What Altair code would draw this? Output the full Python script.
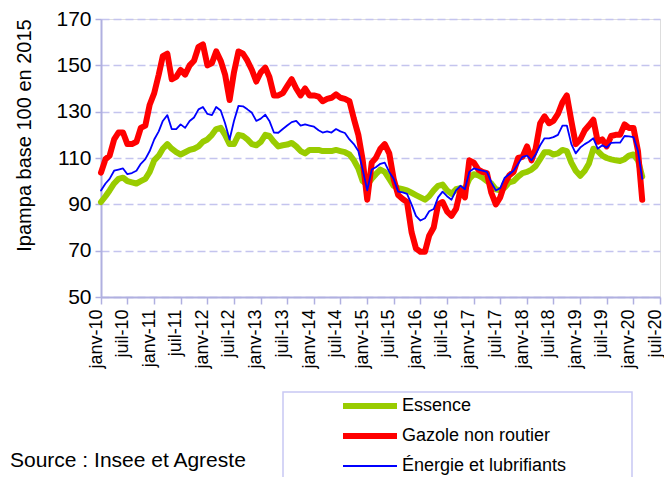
import altair as alt
import pandas as pd

# Monthly dates, janv-2010 .. mars-2020
dates = pd.date_range("2010-01-01", periods=123, freq="MS").strftime("%Y-%m-%d").tolist()

series_names = ["Essence", "Gazole non routier", "Énergie et lubrifiants"]
series_colors = ["#99cc00", "#ff0000", "#0000ff"]
series_widths = [6, 6, 1.8]

essence = [
    91, 93.5, 96, 99, 101, 101.5, 100, 99.5, 99, 100, 101, 104,
    109, 111, 114, 116, 114, 112.5, 111.5, 112.5, 113.5, 114, 115, 117,
    118, 120, 122.5, 123, 120, 116, 116, 120, 119.5, 118, 116, 115.5,
    117, 120, 119.5, 117, 115, 115.5, 115.8, 116.5, 115, 113, 112, 113.5,
    113.5, 113.5, 113, 113, 113, 113.5, 113, 112.5, 111.5, 109, 105.5, 100,
    98.5, 101, 103, 105, 104, 101, 98, 97, 96.5, 96, 95, 94,
    93, 92, 93.5, 96, 98, 98.5, 96, 94.5, 96.5, 97, 96.5, 101,
    103, 102.5, 101.5, 100, 99, 96.5, 96, 97.3, 99.5, 100, 102, 103.5,
    104, 105, 106.5, 109.5, 112.5, 112.5, 111.5, 112, 113.5, 113, 108, 104.5,
    102.3, 104.5, 107.5, 114, 113, 111, 110, 109.4, 109, 108.7, 109.5, 111,
    111.5, 109, 102,
]

gazole = [
    103.7, 109.5, 111, 118, 121, 121, 116, 116, 117, 123, 124, 133,
    138, 146, 154, 155, 144, 145, 148, 146, 150, 152, 158, 159,
    150, 151, 156, 152, 146, 135, 147, 156, 155, 152, 148, 143,
    147, 149, 145, 137, 137, 138, 141, 144, 140, 137, 140, 137,
    137, 136.5, 134.5, 135.5, 136, 137.5, 136, 135.5, 134.5, 127, 120, 109,
    92, 108, 110, 114, 116, 112, 101, 94, 92.3, 91, 78, 71,
    69.5, 69.5, 76.5, 80, 90, 91, 87, 85, 88, 96, 93, 109,
    108, 105, 104, 103.5, 95, 90, 93, 99, 102.5, 104, 110, 110.5,
    115, 109, 114, 125, 128, 125, 126, 129, 134, 137, 126, 116,
    118, 122, 124, 126.5, 117, 118, 115, 119.5, 120, 120, 124.5, 123,
    123, 113, 92,
]

energie = [
    96, 99, 101, 104.5, 105, 105.5, 103, 103.5, 104.5, 107.5, 109.5, 113,
    118, 121.5, 126, 128.5, 122.5, 122.5, 124.5, 123, 126, 127.5, 131, 132,
    129, 128.5, 132, 130.5, 125, 118, 126, 132.5, 132.3, 131, 129.5, 126,
    127, 128.7, 126, 121, 120.9, 122.5, 124, 125.5, 126, 124, 124.5, 124,
    123.5, 122, 121, 121.5, 121, 122.5, 121.5, 120.8, 118, 116, 113, 105,
    96, 105, 106, 107.5, 108, 104, 101, 95.5, 95.2, 94.5, 90, 85,
    83, 84, 87, 88, 93, 95.5, 93.5, 92, 96, 98, 96.5, 104,
    105.5, 105, 104.5, 104, 99.5, 96, 97, 101.5, 103, 104.5, 107.5, 110.5,
    111, 109, 111.5, 115.5, 118.5, 118.5, 119, 120, 124, 124, 116, 112,
    114.5, 116, 117, 118.5, 114, 115.5, 114.5, 116.5, 116.6, 116.6, 119.5, 119.3,
    119, 113, 101,
]

x_tick_dates = [f"{y}-{m:02d}-01" for y in range(2010, 2021) for m in (1, 7)]
y_ticks = [50, 70, 90, 110, 130, 150, 170]

rows = []
for name, vals in zip(series_names, [essence, gazole, energie]):
    for d, v in zip(dates, vals):
        rows.append({"date": d, "serie": name, "valeur": v})
df = pd.DataFrame(rows)

lavender = "#c4c4ee"
axis_col = "#b0b0e0"

x_enc = alt.X(
    "date:T",
    scale=alt.Scale(type="utc", domain=["2010-01-01", "2020-07-01"]),
    axis=alt.Axis(
        values=[alt.DateTime(year=int(s[:4]), month=int(s[5:7]), date=1, utc=True) for s in x_tick_dates],
        labelExpr="(utcmonth(datum.value) == 0 ? 'janv-' : 'juil-') + utcFormat(datum.value, '%y')",
        labelAngle=-90,
        labelAlign="right",
        labelBaseline="middle",
        labelOffset=-5,
        labelFontSize=18,
        labelFont="Liberation Sans",
        labelColor="#000000",
        labelPadding=5,
        labelOverlap=False,
        labelFlush=False,
        tickColor=axis_col,
        tickSize=7,
        tickWidth=1.5,
        domainColor=axis_col,
        domainWidth=2,
        grid=False,
        title=None,
    ),
)

y_enc = alt.Y(
    "valeur:Q",
    scale=alt.Scale(domain=[50, 170], nice=False, zero=False),
    axis=alt.Axis(
        values=y_ticks,
        labelFontSize=21,
        labelFont="Liberation Sans",
        labelColor="#000000",
        labelPadding=4,
        tickColor=axis_col,
        tickSize=6,
        tickWidth=1.5,
        domainColor=axis_col,
        domainWidth=2,
        grid=True,
        gridColor=lavender,
        gridDash=[8, 4],
        gridWidth=1.5,
        title="Ipampa  base 100 en 2015",
        titleFont="Liberation Sans",
        titleFontSize=20,
        titleFontWeight="normal",
        titleColor="#000000",
        titleAngle=-90,
        titleX=-77,
        titleY=116,
        titleAlign="center",
        titleBaseline="middle",
    ),
)

legend_props = dict(
    title=None,
    orient="none",
    legendX=239,
    legendY=378,
    symbolType="stroke",
    symbolSize=2916,
    clipHeight=18,
    rowPadding=12,
    labelFontSize=18,
    labelFont="Liberation Sans",
    labelColor="#000000",
    labelOffset=2,
    labelLimit=400,
    padding=0,
)

lines = alt.Chart(df).mark_line(strokeJoin="round", strokeCap="round").encode(
    x=x_enc,
    y=y_enc,
    color=alt.Color(
        "serie:N",
        scale=alt.Scale(domain=series_names, range=series_colors),
        legend=alt.Legend(**legend_props),
    ),
    strokeWidth=alt.StrokeWidth(
        "serie:N",
        scale=alt.Scale(type="ordinal", domain=series_names, range=series_widths),
        legend=alt.Legend(**legend_props),
    ),
    order=alt.Order("date:T"),
)

note_df = pd.DataFrame({"texte": ["Source : Insee et Agreste"]})

legend_box = alt.Chart(note_df).mark_rect(
    fill=None, stroke="#c8c8f4", strokeWidth=1.5
).encode(
    x=alt.value(182), x2=alt.value(531), y=alt.value(373), y2=alt.value(495)
)

source = alt.Chart(note_df).mark_text(
    align="left", baseline="alphabetic", fontSize=21, font="Liberation Sans", color="#000000"
).encode(x=alt.value(-91), y=alt.value(448), text="texte:N")

chart = alt.layer(legend_box, lines, source).properties(
    width=559,
    height=278,
    autosize=alt.AutoSizeParams(type="none"),
    padding={"left": 93, "top": 11, "right": 4, "bottom": 180},
).configure_view(stroke="#8c8c8c", strokeWidth=1.2).configure(background="white")

chart.save("out.html", embed_options={"renderer": "svg", "actions": False})
